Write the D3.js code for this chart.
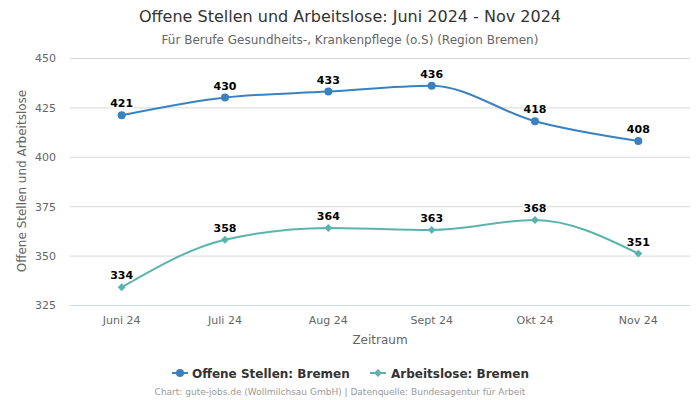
<!DOCTYPE html>
<html><head><meta charset="utf-8">
<script src="https://cdn.jsdelivr.net/npm/d3@7"></script>
<style>body{margin:0;background:#fff;font-family:"DejaVu Sans",sans-serif;}</style>
</head><body><svg id="c" width="700" height="400"></svg>
<script>
const categories = ["Juni 24","Juli 24","Aug 24","Sept 24","Okt 24","Nov 24"];
const offeneStellen = [421,430,433,436,418,408];
const arbeitslose = [334,358,364,363,368,351];
const yTicks = [325,350,375,400,425,450];
const seriesNames = ["Offene Stellen: Bremen","Arbeitslose: Bremen"];
const colors = ["#3a82bf","#5ab4ac"];

const svg = d3.select("#c");
const m = {l:70, r:690, t:58, b:305};
const x = d3.scaleBand().domain(categories).range([m.l,m.r]);
const y = d3.scaleLinear().domain([325,450]).range([m.b,m.t]);

svg.append("text").attr("x",350).attr("y",22).attr("text-anchor","middle")
  .attr("font-size",16).attr("fill","#333").text("Offene Stellen und Arbeitslose: Juni 2024 - Nov 2024");
svg.append("text").attr("x",350).attr("y",44).attr("text-anchor","middle")
  .attr("font-size",12).attr("fill","#666").text("Für Berufe Gesundheits-, Krankenpflege (o.S) (Region Bremen)");

// grid
svg.append("g").selectAll("line").data(yTicks.filter(d=>d!==325)).join("line")
  .attr("x1",m.l).attr("x2",m.r).attr("y1",d=>y(d)+0.5).attr("y2",d=>y(d)+0.5)
  .attr("stroke","#d8d8d8").attr("stroke-width",1);
svg.append("line").attr("x1",m.l).attr("x2",m.r).attr("y1",m.b+0.5).attr("y2",m.b+0.5)
  .attr("stroke","#ccd6eb");

// y labels
const ya = svg.append("g").attr("transform",`translate(${m.l-14},0)`)
  .call(d3.axisLeft(y).tickValues(yTicks).tickSize(0).tickPadding(0));
ya.select(".domain").remove();
ya.selectAll("text").attr("font-size",11).attr("fill","#666").attr("font-family","DejaVu Sans").attr("dy","0.35em");

const xa = svg.append("g").attr("transform",`translate(0,${m.b})`)
  .call(d3.axisBottom(x).tickSize(0).tickPadding(11));
xa.select(".domain").remove();
xa.selectAll("text").attr("font-size",11).attr("fill","#666").attr("font-family","DejaVu Sans");

svg.append("text").attr("x",380).attr("y",344).attr("text-anchor","middle")
  .attr("font-size",12).attr("fill","#666").text("Zeitraum");
svg.append("text").attr("transform","translate(26,181) rotate(-90)").attr("text-anchor","middle")
  .attr("font-size",12).attr("fill","#666").text("Offene Stellen und Arbeitslose");

const cx = d => x(d)+x.bandwidth()/2;
const line = d3.line().x((d,i)=>cx(categories[i])).y(d=>y(d)).curve(d3.curveMonotoneX);

[offeneStellen, arbeitslose].forEach((data,si)=>{
  const g = svg.append("g");
  g.append("path").attr("d",line(data)).attr("fill","none").attr("stroke",colors[si]).attr("stroke-width",2);
  if(si===0){
    g.selectAll("circle").data(data).join("circle").attr("cx",(d,i)=>cx(categories[i])).attr("cy",d=>y(d))
      .attr("r",4).attr("fill",colors[si]);
  } else {
    g.selectAll("path.m").data(data).join("path").attr("class","m")
      .attr("d",d3.symbol(d3.symbolDiamond2,40)())
      .attr("transform",(d,i)=>`translate(${cx(categories[i])},${y(d)})`).attr("fill",colors[si]);
  }
  g.selectAll("text").data(data).join("text").attr("x",(d,i)=>cx(categories[i])).attr("y",d=>y(d)-8)
    .attr("text-anchor","middle").attr("font-size",11).attr("font-weight","bold").attr("fill","#000")
    .attr("stroke","#fff").attr("stroke-width",3).attr("paint-order","stroke").attr("stroke-linejoin","round")
    .text(d=>d);
});

// legend
const lg = svg.append("g");
const items = [{x:172,tx:192},{x:370,tx:391}];
items.forEach((it,i)=>{
  lg.append("line").attr("x1",it.x).attr("x2",it.x+16).attr("y1",373).attr("y2",373).attr("stroke",colors[i]).attr("stroke-width",2);
  if(i===0) lg.append("circle").attr("cx",it.x+8).attr("cy",373).attr("r",4).attr("fill",colors[i]);
  else lg.append("path").attr("d",d3.symbol(d3.symbolDiamond2,40)()).attr("transform",`translate(${it.x+8},373)`).attr("fill",colors[i]);
  lg.append("text").attr("x",it.tx).attr("y",377.5).attr("font-size",12).attr("font-weight","bold").attr("fill","#333").text(seriesNames[i]);
});

svg.append("text").attr("x",340).attr("y",395).attr("text-anchor","middle").attr("font-size",9).attr("fill","#999")
  .text("Chart: gute-jobs.de (Wollmilchsau GmbH) | Datenquelle: Bundesagentur für Arbeit");
</script></body></html>
